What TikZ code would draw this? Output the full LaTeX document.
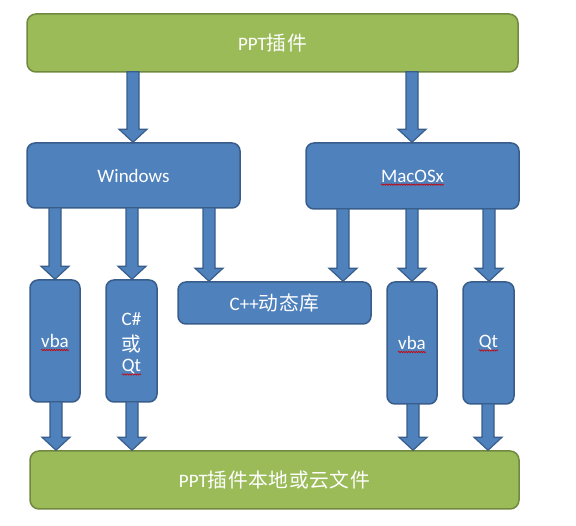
\documentclass[tikz,border=0pt]{standalone}
\usepackage{fontspec}
\setmainfont{Carlito}
\newfontfamily\cjk[Scale=1.04,LetterSpace=3]{Noto Sans CJK SC}
\usetikzlibrary{calc,decorations.pathmorphing}
\definecolor{gfill}{HTML}{9BBB59}
\definecolor{gline}{HTML}{71893F}
\definecolor{bfill}{HTML}{4F81BD}
\definecolor{bline}{HTML}{385D8A}
\newcommand\barrow[3]{%
  \draw[barr] let \p1=(#2.south), \p2=(#3.north) in
    (#1pt-6pt,\y1+1pt) -- (#1pt+6pt,\y1+1pt) -- (#1pt+6pt,\y2+13pt) --
    (#1pt+14pt,\y2+13pt) -- (#1pt,\y2) -- (#1pt-14pt,\y2+13pt) --
    (#1pt-6pt,\y2+13pt) -- cycle;}
\begin{document}
\begin{tikzpicture}[x=1pt,y=-1pt,
  gbox/.style={draw=gline, fill=gfill, line width=1.5pt, rounded corners=9pt,
    text=white, inner sep=0pt, font=\fontsize{19}{23}\selectfont},
  bbox/.style={draw=bline, fill=bfill, line width=1.5pt, rounded corners=8pt,
    text=white, inner sep=0pt, font=\fontsize{19}{23}\selectfont},
  lbl/.style={text=white, inner sep=0pt, font=\fontsize{19}{23}\selectfont},
  barr/.style={draw=bline, fill=bfill, line width=1.2pt, line join=miter},
  squig/.style={draw=red!80!black, line width=0.6pt, decorate,
    decoration={snake, amplitude=0.7pt, segment length=2.5pt}}]
\useasboundingbox (0,0) rectangle (576,526);

% boxes
\node[gbox, minimum width=491pt, minimum height=58pt] (top) at (272.5,43) {PPT{\cjk 插件}};
\node[bbox, minimum width=213pt, minimum height=65pt] (win) at (133.5,175.5) {Windows};
\node[bbox, minimum width=213pt, minimum height=66pt] (mac) at (412.5,176) {};
\node[bbox, minimum width=50pt, minimum height=122pt] (vba1) at (55,341) {};
\node[bbox, minimum width=51pt, minimum height=122pt] (csqt) at (131.5,341) {};
\node[bbox, minimum width=193pt, minimum height=42pt] (cpp) at (274.5,303) {C++{\cjk 动态库}};
\node[bbox, minimum width=50pt, minimum height=122pt] (vba2) at (412,343) {};
\node[bbox, minimum width=51pt, minimum height=122pt] (qt) at (488.5,343) {};
\node[gbox, minimum width=489pt, minimum height=58pt] (bot) at (274.5,480) {PPT{\cjk 插件本地或云文件}};

% labels
\node[lbl] (mact) at (mac.center) {MacOSx};
\node[lbl] (vba1t) at (vba1.center) {vba};
\node[lbl] (cs1) at (131.5,319) {C\#};
\node[lbl] (cs2) at (131.5,344) {\cjk 或};
\node[lbl] (cs3) at (131.5,367) {Qt};
\node[lbl] (vba2t) at (vba2.center) {vba};
\node[lbl] (qtt) at (qt.center) {Qt};

% spelling marks
\foreach \n in {mact,vba1t,cs3,vba2t,qtt}{
  \draw[squig] ([yshift=-2.5pt]\n.base west) -- ([yshift=-2.5pt]\n.base east);
}

% arrows
\barrow{133}{top}{win}
\barrow{412}{top}{mac}
\barrow{55}{win}{vba1}
\barrow{132}{win}{csqt}
\barrow{209}{win}{cpp}
\barrow{343}{mac}{cpp}
\barrow{412}{mac}{vba2}
\barrow{489}{mac}{qt}
\barrow{56}{vba1}{bot}
\barrow{132}{csqt}{bot}
\barrow{413}{vba2}{bot}
\barrow{488}{qt}{bot}
\end{tikzpicture}
\end{document}
